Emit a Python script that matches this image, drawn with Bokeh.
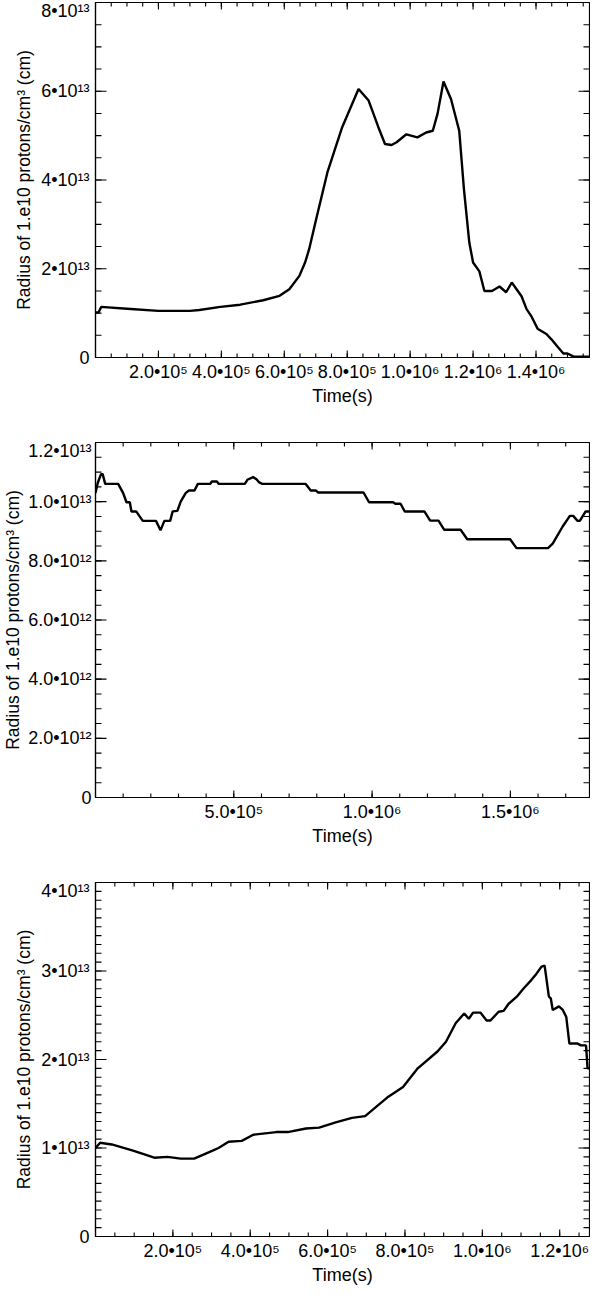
import numpy as np
from bokeh.plotting import figure
from bokeh.layouts import column
from bokeh.models import Range1d
from bokeh.embed import file_html
from bokeh.resources import INLINE

# ---------------- data (time in 1e5 s, radius in 1e13 cm) ----------------
t1 = [0, 0.10, 0.18, 1.0, 2.0, 3.0, 3.3, 3.97, 4.6, 5.33, 5.85, 6.16, 6.48, 6.66, 6.79,
      7.02, 7.37, 7.84, 8.36, 8.68, 8.99, 9.2, 9.41, 9.57, 9.88, 10.23, 10.51, 10.72,
      10.87, 11.06, 11.3, 11.56, 11.71, 11.88, 12.0, 12.2, 12.36, 12.6, 12.84, 13.05,
      13.23, 13.54, 13.7, 13.86, 14.05, 14.33, 14.49, 14.7, 14.87, 15.0, 15.2, 15.7]
r1 = [1.01, 1.02, 1.14, 1.10, 1.05, 1.05, 1.07, 1.14, 1.19, 1.29, 1.39, 1.54, 1.84, 2.14,
      2.44, 3.14, 4.17, 5.19, 6.05, 5.79, 5.19, 4.81, 4.79, 4.85, 5.03, 4.96, 5.07, 5.11,
      5.49, 6.22, 5.82, 5.11, 3.79, 2.59, 2.14, 1.94, 1.50, 1.50, 1.60, 1.47, 1.69, 1.38,
      1.09, 0.92, 0.65, 0.53, 0.41, 0.23, 0.09, 0.09, 0.02, 0.02]

# time in 1e5 s, radius in 1e12 cm
t2 = [0, 0.08, 0.2, 0.26, 0.35, 0.82, 1.0, 1.12, 1.24, 1.3, 1.47, 1.71, 2.19, 2.35, 2.49,
      2.7, 2.79, 2.96, 3.08, 3.26, 3.38, 3.58, 3.7, 4.15, 4.2, 4.39, 4.45, 5.4, 5.49, 5.7,
      5.82, 5.92, 6.03, 7.6, 7.78, 7.96, 8.05, 9.69, 9.89, 10.76, 10.84, 11.03, 11.18,
      11.89, 12.1, 12.4, 12.61, 13.2, 13.44, 14.99, 15.22, 16.36, 16.53, 16.89, 17.15,
      17.27, 17.43, 17.51, 17.72, 17.86]
r2 = [10.29, 10.63, 10.93, 10.93, 10.6, 10.6, 10.29, 9.98, 9.98, 9.67, 9.67, 9.35, 9.35,
      9.03, 9.35, 9.35, 9.67, 9.69, 10.0, 10.29, 10.38, 10.38, 10.6, 10.6, 10.68, 10.68,
      10.6, 10.6, 10.74, 10.83, 10.76, 10.65, 10.6, 10.6, 10.38, 10.38, 10.31, 10.31,
      9.98, 9.98, 9.93, 9.93, 9.67, 9.67, 9.36, 9.36, 9.05, 9.05, 8.73, 8.73, 8.43, 8.43,
      8.58, 9.16, 9.52, 9.52, 9.35, 9.35, 9.67, 9.67]

# time in 1e5 s, radius in 1e13 cm
t3 = [0, 0.12, 0.42, 0.97, 1.52, 1.86, 2.2, 2.55, 2.97, 3.18, 3.44, 3.78, 4.08, 4.67, 4.97,
      5.44, 5.78, 6.21, 6.63, 6.97, 7.57, 7.95, 8.33, 8.84, 9.06, 9.31, 9.53, 9.65, 9.76,
      9.95, 10.11, 10.21, 10.42, 10.55, 10.68, 10.89, 11.06, 11.27, 11.4, 11.53, 11.61,
      11.72, 11.77, 11.82, 11.98, 12.08, 12.17, 12.25, 12.46, 12.55, 12.68, 12.72, 12.77]
r3 = [1.0, 1.06, 1.04, 0.97, 0.89, 0.90, 0.88, 0.88, 0.96, 1.0, 1.07, 1.08, 1.15, 1.18,
      1.18, 1.22, 1.23, 1.29, 1.34, 1.36, 1.58, 1.69, 1.90, 2.09, 2.20, 2.41, 2.52, 2.46,
      2.53, 2.53, 2.44, 2.44, 2.54, 2.55, 2.63, 2.71, 2.80, 2.90, 2.97, 3.05, 3.06, 2.71,
      2.69, 2.56, 2.60, 2.56, 2.48, 2.18, 2.18, 2.16, 2.16, 1.90, 1.90]

# tick labels (x in 1e5 s units, y in 1e12 cm units)
x1_ticks = [2, 4, 6, 8, 10, 12, 14]
x1_labels = ["2.0•10⁵", "4.0•10⁵", "6.0•10⁵", "8.0•10⁵", "1.0•10⁶", "1.2•10⁶", "1.4•10⁶"]
y1_ticks = [0, 20, 40, 60, 80]
y1_labels = ["0", "2•10¹³", "4•10¹³", "6•10¹³", "8•10¹³"]

x2_ticks = [5, 10, 15]
x2_labels = ["5.0•10⁵", "1.0•10⁶", "1.5•10⁶"]
y2_ticks = [0, 2, 4, 6, 8, 10, 12]
y2_labels = ["0", "2.0•10¹²", "4.0•10¹²", "6.0•10¹²", "8.0•10¹²", "1.0•10¹³", "1.2•10¹³"]

x3_ticks = [2, 4, 6, 8, 10, 12]
x3_labels = ["2.0•10⁵", "4.0•10⁵", "6.0•10⁵", "8.0•10⁵", "1.0•10⁶", "1.2•10⁶"]
y3_ticks = [0, 10, 20, 30, 40]
y3_labels = ["0", "1•10¹³", "2•10¹³", "3•10¹³", "4•10¹³"]

XLABEL = "Time(s)"
YLABEL = "Radius of 1.e10 protons/cm³ (cm)"
FONT = "Liberation Sans"


def panel(t, r, xmax, ymax, xt, xl, xminor_step, yt, yl, yminor_step,
          height, bottom, ytick_standoff, ylab_standoff):
    p = figure(width=590, height=height, output_backend="svg", toolbar_location=None,
               x_range=Range1d(0, xmax), y_range=Range1d(0, ymax),
               min_border_left=89, min_border_right=1, min_border_top=2,
               min_border_bottom=bottom)
    p.grid.visible = False
    p.outline_line_color = "black"
    p.outline_line_width = 1.2
    p.background_fill_color = "white"
    p.border_fill_color = "white"

    xa = p.xaxis[0]
    xa.ticker = xt
    xa.major_label_overrides = {k: v for k, v in zip(xt, xl)}
    xa.major_label_standoff = 4
    xa.axis_label = XLABEL
    xa.axis_label_standoff = 1
    xa.axis_label_text_font_size = "18px"

    ya = p.yaxis[0]
    ya.ticker = yt
    ya.major_label_overrides = {k: v for k, v in zip(yt, yl)}
    ya.major_label_standoff = ytick_standoff
    ya.axis_label = YLABEL
    ya.axis_label_standoff = ylab_standoff
    ya.axis_label_text_font_size = "17.5px"

    for a in (xa, ya):
        a.major_tick_in = a.major_tick_out = 0
        a.minor_tick_in = a.minor_tick_out = 0
        a.minor_tick_line_color = None
        a.axis_line_color = "black"
        a.axis_line_width = 1.2
        a.major_label_text_font = FONT
        a.major_label_text_font_size = "18px"
        a.major_label_text_color = "black"
        a.axis_label_text_font = FONT
        a.axis_label_text_font_style = "normal"
        a.axis_label_text_color = "black"

    # inward tick marks on all four sides, placed from the tick lists
    xminor = np.arange(0, xmax + 1e-9, xminor_step)
    yminor = np.arange(0, ymax + 1e-9, yminor_step)
    tick = dict(line_color="black", line_width=1.1, length_units="screen")
    p.ray(x=xminor, y=0, length=4, angle=np.pi / 2, **tick)
    p.ray(x=xminor, y=ymax, length=4, angle=-np.pi / 2, **tick)
    p.ray(x=xt, y=0, length=7, angle=np.pi / 2, **tick)
    p.ray(x=xt, y=ymax, length=7, angle=-np.pi / 2, **tick)
    p.ray(x=0, y=yminor, length=6, angle=0, **tick)
    p.ray(x=xmax, y=yminor, length=6, angle=np.pi, **tick)
    p.ray(x=0, y=yt, length=11, angle=0, **tick)
    p.ray(x=xmax, y=yt, length=11, angle=np.pi, **tick)

    p.line(t, r, line_color="black", line_width=2.4)
    return p


p1 = panel(t1, list(np.array(r1) * 10), 15.7, 80, x1_ticks, x1_labels, 0.5,
           y1_ticks, y1_labels, 5, 440, 83, 6, 4)
p2 = panel(t2, r2, 17.86, 12, x2_ticks, x2_labels, 1.0,
           y2_ticks, y2_labels, 0.5, 440, 83, 4, 2)
p3 = panel(t3, list(np.array(r3) * 10), 12.77, 40, x3_ticks, x3_labels, 0.5,
           y3_ticks, y3_labels, 1, 407, 50, 6, 4)

layout = column(p1, p2, p3, spacing=0)
open("out.html", "w").write(file_html(layout, INLINE))
